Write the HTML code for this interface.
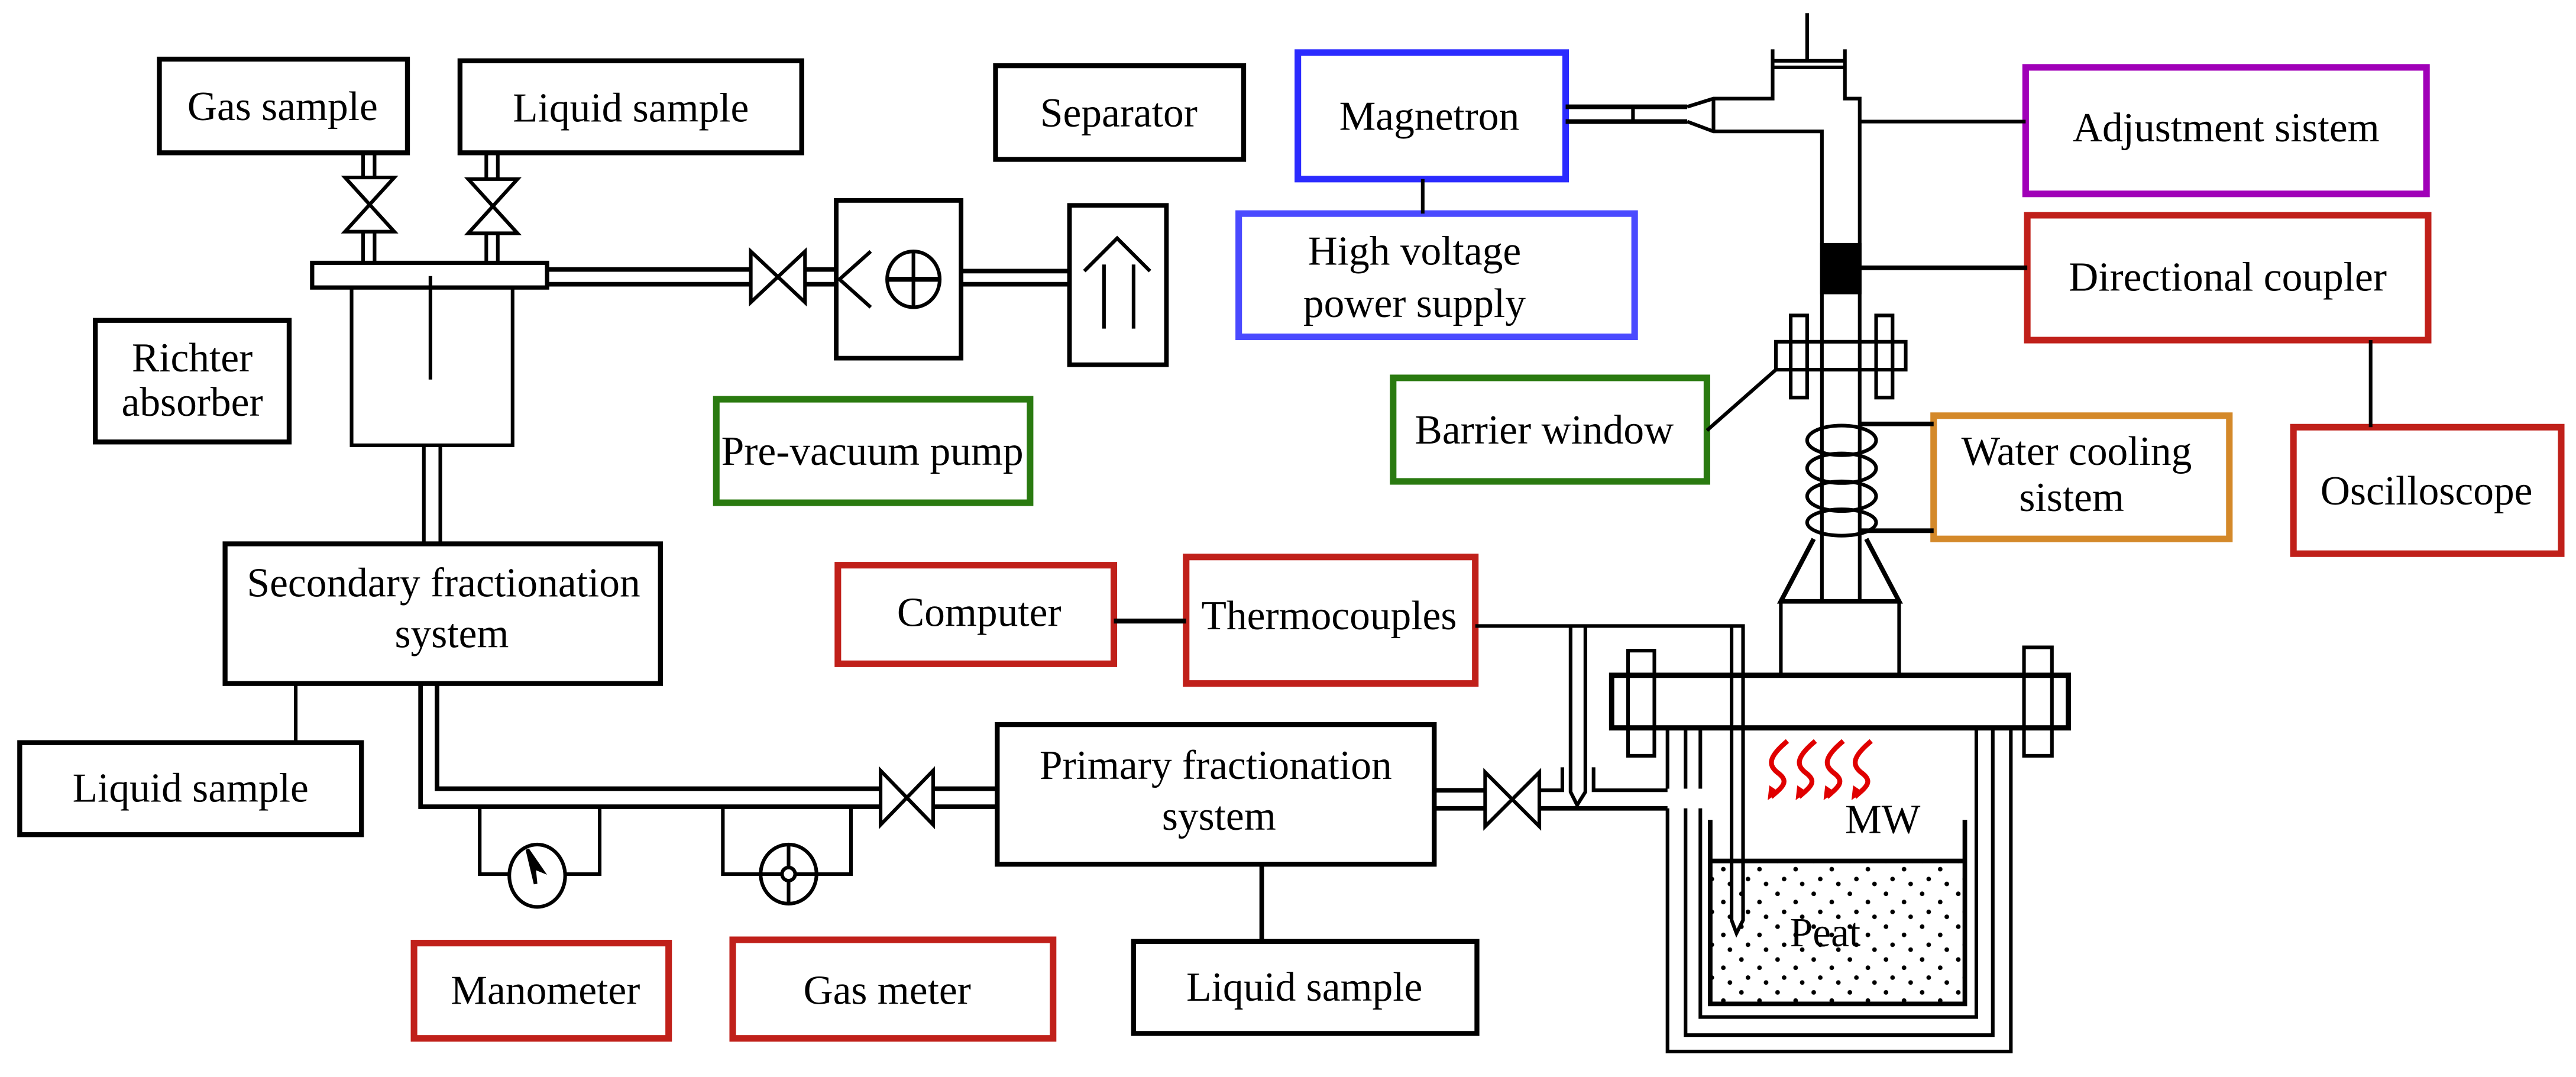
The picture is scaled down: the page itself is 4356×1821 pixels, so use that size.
<!DOCTYPE html>
<html><head><meta charset="utf-8"><style>
html,body{margin:0;padding:0;background:#fff}
svg{display:block}
text{font-family:"Liberation Serif",serif;font-size:25px;fill:#000}
</style></head><body>
<svg width="4356" height="1821" viewBox="0 0 1568 655.5" xmlns="http://www.w3.org/2000/svg">
<defs>
<pattern id="dots" width="22" height="20" patternUnits="userSpaceOnUse">
<circle cx="4" cy="4" r="1.4" fill="#000"/><circle cx="15" cy="9" r="1.4" fill="#000"/><circle cx="8" cy="15" r="1.4" fill="#000"/><circle cx="19" cy="18" r="1.4" fill="#000"/>
</pattern>
</defs>
<g fill="none" stroke="#000" stroke-width="3">
<rect x="97" y="36" width="151" height="57"/>
<rect x="280" y="37" width="208" height="56"/>
<rect x="606" y="40" width="151" height="57"/>
<rect x="58" y="195" width="118" height="74"/>
<rect x="137" y="331" width="265" height="85"/>
<rect x="12" y="452" width="208" height="56"/>
<rect x="607" y="441" width="266" height="85"/>
<rect x="690" y="573" width="209" height="56"/>
</g>
<g fill="none" stroke-width="4">
<rect x="436" y="243" width="191" height="63" stroke="#2a7a10"/>
<rect x="790" y="32" width="163" height="77" stroke="#2b2bff"/>
<rect x="754" y="130" width="241" height="75" stroke="#4a4aff"/>
<rect x="1233" y="41" width="244" height="77" stroke="#a000b8"/>
<rect x="1234" y="131" width="244" height="76" stroke="#c0201a"/>
<rect x="848" y="230" width="191" height="63" stroke="#2a7a10"/>
<rect x="1177" y="253" width="180" height="75" stroke="#d4892a"/>
<rect x="1396" y="260" width="163" height="77" stroke="#c0201a"/>
<rect x="510" y="344" width="168" height="60" stroke="#c0201a"/>
<rect x="722" y="339" width="176" height="77" stroke="#c0201a"/>
<rect x="252" y="574" width="155" height="58" stroke="#c0201a"/>
<rect x="446" y="572" width="195" height="60" stroke="#c0201a"/>
</g>
<g fill="none" stroke="#000" stroke-width="2.2">
<line x1="221" y1="93" x2="221" y2="108"/><line x1="228" y1="93" x2="228" y2="108"/>
<path d="M210 108 H240 L210 141 H240 Z"/>
<line x1="221" y1="141" x2="221" y2="160"/><line x1="228" y1="141" x2="228" y2="160"/>
<line x1="296" y1="93" x2="296" y2="109"/><line x1="303" y1="93" x2="303" y2="109"/>
<path d="M285 109 H315 L285 142 H315 Z"/>
<line x1="296" y1="142" x2="296" y2="160"/><line x1="303" y1="142" x2="303" y2="160"/>
<rect x="190" y="160" width="143" height="15" stroke-width="2.6"/>
<rect x="214" y="175" width="98" height="96"/>
<line x1="262" y1="168" x2="262" y2="231"/>
<line x1="258" y1="271" x2="258" y2="331"/><line x1="268" y1="271" x2="268" y2="331"/>
<line x1="333" y1="164" x2="457" y2="164" stroke-width="2.8"/><line x1="333" y1="173" x2="457" y2="173" stroke-width="2.8"/>
<path d="M457 153 V184 L490 153 V184 Z"/>
<line x1="490" y1="164" x2="509" y2="164" stroke-width="2.8"/><line x1="490" y1="173" x2="509" y2="173" stroke-width="2.8"/>
<rect x="509" y="122" width="76" height="96" stroke-width="2.8"/>
<path d="M530 153 L511 170 L530 187"/>
<ellipse cx="556" cy="170" rx="16" ry="17"/>
<line x1="540" y1="170" x2="572" y2="170" stroke-width="3"/><line x1="556" y1="153" x2="556" y2="187"/>
<line x1="585" y1="165" x2="651" y2="165" stroke-width="2.8"/><line x1="585" y1="173" x2="651" y2="173" stroke-width="2.8"/>
<rect x="651" y="125" width="59" height="97" stroke-width="2.8"/>
<path d="M660 165 L680 145 L700 165"/>
<line x1="672" y1="161" x2="672" y2="200"/><line x1="690" y1="161" x2="690" y2="200"/>
<line x1="866" y1="109" x2="866" y2="130"/>
<line x1="953" y1="65" x2="1027" y2="65" stroke-width="2.8"/><line x1="953" y1="74" x2="1027" y2="74" stroke-width="2.8"/>
<line x1="994" y1="65" x2="994" y2="74"/>
<path d="M1027 65 L1043 60 H1079 V30"/>
<path d="M1027 74 L1043 80 H1109 V366"/>
<line x1="1043" y1="60" x2="1043" y2="80"/>
<path d="M1079 37 H1123 M1079 41 H1123"/>
<line x1="1100" y1="8" x2="1100" y2="37"/>
<path d="M1123 30 V60 H1132 V366"/>
<rect x="1109" y="149" width="23" height="29" fill="#000"/>
<line x1="1132" y1="74" x2="1233" y2="74"/>
<line x1="1132" y1="163" x2="1234" y2="163" stroke-width="2.8"/>
<rect x="1081" y="208" width="79" height="17"/>
<rect x="1090" y="192" width="10" height="50"/><rect x="1142" y="192" width="10" height="50"/>
<line x1="1081" y1="225" x2="1039" y2="262"/>
<line x1="1443" y1="207" x2="1443" y2="260"/>
<line x1="1132" y1="258" x2="1177" y2="258" stroke-width="2.8"/>
<line x1="1132" y1="323" x2="1177" y2="323" stroke-width="2.8"/>
<ellipse cx="1121" cy="268" rx="21" ry="9"/><ellipse cx="1121" cy="285" rx="21" ry="9"/>
<ellipse cx="1121" cy="302" rx="21" ry="9"/><ellipse cx="1121" cy="318" rx="21" ry="8"/>
<path d="M1104 328 L1084 366 H1156 L1136 328" stroke-width="2.8"/>
<rect x="1084" y="366" width="72" height="45"/>
<rect x="981" y="411" width="278" height="32" stroke-width="3.2"/>
<rect x="991" y="396" width="16" height="64"/><rect x="1232" y="394" width="17" height="66"/>
<path d="M1015 492 V640 H1224 V443"/>
<path d="M1026 492 V630 H1213 V443"/>
<path d="M1035 492 V619 H1203 V443"/>
<path d="M1015 443 V480 M1026 443 V480 M1035 443 V480"/>
<rect x="1041" y="524" width="155" height="87" fill="url(#dots)" stroke="none"/>
<path d="M1041 499 V611 H1196 V499" stroke-width="2.8"/>
<line x1="1041" y1="524" x2="1196" y2="524" stroke-width="2.8"/>
<path d="M898 381 H1061 V560 L1057 568 L1054 560 V381"/>
<path d="M956 381 V482 L960 490 L965 482 V381"/>
<path d="M678 378 H722" stroke-width="3"/>
<path d="M256 416 V491 H536" stroke-width="2.8"/>
<path d="M266 416 V480 H536" stroke-width="2.8"/>
<path d="M536 469 V502 L568 469 V502 Z"/>
<line x1="568" y1="480" x2="607" y2="480" stroke-width="2.8"/><line x1="568" y1="491" x2="607" y2="491" stroke-width="2.8"/>
<path d="M292 491 V532 H310 M344 532 H365 V491"/>
<ellipse cx="327" cy="533" rx="17" ry="19"/>
<path d="M321 517 L330 530 L325 528 L326 538 Z" fill="#000"/>
<path d="M440 491 V532 H518 V491"/>
<ellipse cx="480" cy="532" rx="17" ry="18" fill="#fff"/>
<line x1="480" y1="514" x2="480" y2="550"/><line x1="463" y1="532" x2="497" y2="532"/>
<circle cx="480" cy="532" r="4" fill="#fff"/>
<line x1="180" y1="416" x2="180" y2="452"/>
<line x1="768" y1="526" x2="768" y2="573" stroke-width="2.8"/>
<line x1="873" y1="481" x2="904" y2="481" stroke-width="2.8"/><line x1="873" y1="492" x2="904" y2="492" stroke-width="2.8"/>
<path d="M904 470 V503 L937 470 V503 Z"/>
<path d="M937 481 H951 V467 M970 467 V481 H1015"/>
<line x1="937" y1="492" x2="1015" y2="492" stroke-width="2.8"/>
</g>
<g fill="none" stroke="#e00000" stroke-width="3">
<path d="M1088 451 C1076 461 1076 466 1083 471 C1089 476 1085 479 1078 485"/>
<path d="M1105 451 C1093 461 1093 466 1100 471 C1106 476 1102 479 1095 485"/>
<path d="M1122 451 C1110 461 1110 466 1117 471 C1123 476 1119 479 1112 485"/>
<path d="M1139 451 C1127 461 1127 466 1134 471 C1140 476 1136 479 1129 485"/>
</g>
<g fill="#e00000">
<path d="M1076 487 L1077 478 L1083 482 Z"/><path d="M1093 487 L1094 478 L1100 482 Z"/>
<path d="M1110 487 L1111 478 L1117 482 Z"/><path d="M1127 487 L1128 478 L1134 482 Z"/>
</g>
<g text-anchor="middle">
<text x="172" y="73">Gas sample</text>
<text x="384" y="74">Liquid sample</text>
<text x="681" y="77">Separator</text>
<text x="117" y="226">Richter</text>
<text x="117" y="253">absorber</text>
<text x="531" y="283">Pre-vacuum pump</text>
<text x="870" y="79">Magnetron</text>
<text x="861" y="161">High voltage</text>
<text x="861" y="193">power supply</text>
<text x="1355" y="86">Adjustment sistem</text>
<text x="1356" y="177">Directional coupler</text>
<text x="940" y="270">Barrier window</text>
<text x="1264" y="283">Water cooling</text>
<text x="1261" y="311">sistem</text>
<text x="1477" y="307">Oscilloscope</text>
<text x="270" y="363">Secondary fractionation</text>
<text x="275" y="394">system</text>
<text x="116" y="488">Liquid sample</text>
<text x="596" y="381">Computer</text>
<text x="809" y="383">Thermocouples</text>
<text x="740" y="474">Primary fractionation</text>
<text x="742" y="505">system</text>
<text x="794" y="609">Liquid sample</text>
<text x="332" y="611">Manometer</text>
<text x="540" y="611">Gas meter</text>
<text x="1146" y="507">MW</text>
<text x="1111" y="576">Peat</text>
</g>
</svg>
</body></html>
